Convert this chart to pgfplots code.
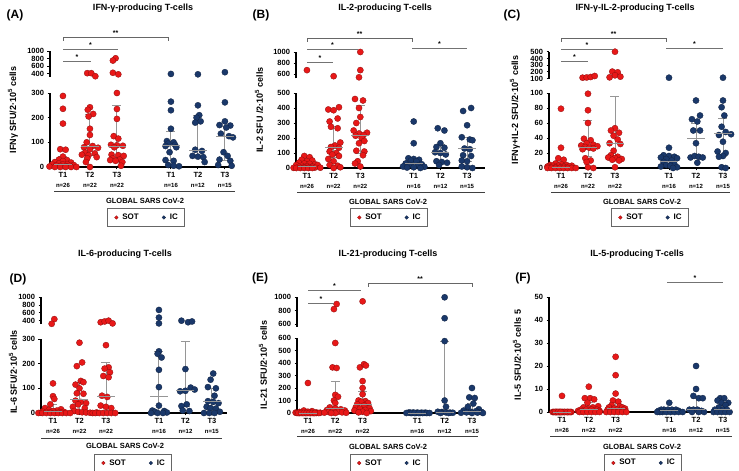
\documentclass[border=0pt]{standalone}
\usepackage{pgfplots}
\pgfplotsset{compat=1.18}
\usepackage{fontspec}
\setmainfont{Liberation Sans}
\definecolor{sotred}{RGB}{232,24,24}
\definecolor{icblue}{RGB}{26,56,106}
\definecolor{medgray}{RGB}{150,150,150}
\newcommand{\bfs}[1]{\fontsize{#1}{#1}\selectfont\bfseries}
\newcommand{\brk}[4]{\draw[black!60,line width=0.7pt] (#1,#3+4) -- (#1,#3) -- (#2,#3) -- (#2,#3+4);
  \node[font=\bfs{7},inner sep=0pt,anchor=south] at ({(#1+#2)/2},#3-1) {#4};}
\newcommand{\lin}[4]{\draw[black!55,line width=0.7pt] (#1,#3) -- (#2,#3);
  \node[font=\bfs{7},inner sep=0pt,anchor=south] at ({(#1+#2)/2},#3-1) {#4};}

\pgfplotsset{
  every axis/.append style={scale only axis, clip=false, anchor=south west,
    tick align=outside, major tick length=2.5pt,
    axis line style={line width=1.1pt}, every tick/.style={black, line width=0.9pt},
    yticklabel style={font=\bfs{7.5}},
    /pgf/number format/assume math mode=true, /pgf/number format/1000 sep={},
    scaled y ticks=false},
  low/.style={axis x line*=bottom, axis y line*=left, ymin=0,
    xtick={1,2,3,5,6,7},
    xticklabels={{T1\\[2.5pt]\bfs{6}n=26},{T2\\[2.5pt]\bfs{6}n=22},{T3\\[2.5pt]\bfs{6}n=22},
                 {T1\\[2.5pt]\bfs{6}n=16},{T2\\[2.5pt]\bfs{6}n=12},{T3\\[2.5pt]\bfs{6}n=15}},
    xticklabel style={align=center, font=\bfs{7.5}, yshift=0.5pt},
    legend style={draw=black!60, line width=0.6pt, font=\bfs{8}, legend columns=2,
      anchor=center, inner xsep=5pt, inner ysep=3.5pt,
      /tikz/every even column/.append style={column sep=19pt}}},
  up/.style={axis x line=none, axis y line*=left, xtick=\empty},
  sot/.style={only marks, mark=*, mark size=3.1pt,
    mark options={fill=sotred, draw=sotred!60!black, line width=0.3pt},
    legend image code/.code={\path[draw=none, fill=none] (-4pt,-1pt) rectangle (4pt,1pt);
      \path[fill=sotred, draw=sotred!60!black, line width=0.3pt] (0pt,0pt) circle (1.8pt);}},
  ic/.style={only marks, mark=*, mark size=3.1pt,
    mark options={fill=icblue, draw=icblue!60!black, line width=0.3pt},
    legend image code/.code={\path[draw=none, fill=none] (-4pt,-1pt) rectangle (4pt,1pt);
      \path[fill=icblue, draw=icblue!60!black, line width=0.3pt] (0pt,0pt) circle (1.8pt);}},
  med/.style={forget plot, only marks, mark=-, mark size=9pt,
    mark options={medgray, line width=0.9pt},
    error bars/.cd, y dir=both, y explicit,
    error bar style={medgray, line width=0.9pt},
    error mark options={medgray, mark size=4.5pt, line width=0.9pt, rotate=90}},
}

\begin{document}
\begin{tikzpicture}
\path[use as bounding box] (0,0) rectangle (739pt,471pt);

% ---------------- (A) IFN-gamma ----------------
\begin{axis}[low, at={(50pt,304pt)}, width=183pt, height=74pt,
  xmin=0.52, xmax=7.3, ymax=300, ytick={0,100,200,300},
  legend style={at={(0.525,-0.682)}}]
\addplot[sot] coordinates {
 (1,288)(1,236)(1,176)(0.9,72)(1.1,70)(1,42)(0.85,30)(1.15,28)(1,24)(0.7,20)(1.3,18)
 (0.85,14)(1.15,12)(1,10)(0.6,10)(1.4,8)(0.75,6)(1.25,5)(0.9,4)(1.1,3)(0.5,2)
 (0.7,0)(0.9,0)(1.1,0)(1.3,0)(1.5,0)
 (2,242)(1.92,232)(2.12,215)(1.95,205)(2,155)(2,130)(1.88,100)(2.1,85)(1.78,80)(2.3,78)
 (2,72)(1.82,58)(2.18,55)(1.7,50)(1.95,48)(2.25,40)(1.9,35)(1.85,20)(2,0)
 (3,300)(3,235)(3,195)(2.88,125)(3.05,115)(2.78,90)(3,88)(3.22,86)(2.9,80)(2.8,50)
 (3.05,48)(3.25,45)(2.85,35)(3.1,30)(2.75,28)(2.95,25)(3.2,20)(3.15,5)};
\addplot[ic] coordinates {
 (5,265)(5,230)(5,155)(4.85,105)(5.1,100)(4.9,95)(5.15,90)(4.8,85)(5.2,80)(4.95,60)
 (4.8,28)(5.1,25)(4.9,8)(5.1,5)(5.3,3)
 (6,250)(6.05,210)(5.95,200)(6.1,185)(5.9,180)(5.9,70)(6.15,65)(5.8,45)(6,42)(6.2,40)(6.25,20)
 (7,262)(7,185)(6.8,170)(7.2,168)(7.05,160)(6.85,135)(7.15,125)(7.3,120)(6.95,60)(7.1,45)
 (6.8,30)(7.2,25)(6.75,8)(7.25,5)};
\addplot[med] coordinates {(1,10) += (0,33) -= (0,10) (2,82) += (0,133) -= (0,37)
 (3,85) += (0,165) -= (0,55) (5,88) += (0,55) -= (0,63) (6,67) += (0,140) -= (0,25)
 (7,122) += (0,43) -= (0,94)};
\legend{SOT,IC}
\end{axis}
\begin{axis}[up, at={(50pt,394pt)}, width=183pt, height=26pt,
  xmin=0.52, xmax=7.3, ymin=320, ymax=1000, ytick={400,600,800,1000}]
\addplot[sot] coordinates {(1.9,420)(2.05,420)(2.2,340)(2.95,810)(2.85,750)(2.85,430)(3.05,390)};
\addplot[ic] coordinates {(5,400)(6,390)(7,445)};
\end{axis}

% ---------------- (B) IL-2 ----------------
\begin{axis}[low, at={(296pt,303pt)}, width=189pt, height=75pt,
  xmin=0.59, xmax=7.67, ymax=500, ytick={0,100,...,500},
  legend style={at={(0.492,-0.66)}}]
\addplot[sot] coordinates {
 (0.9,80)(1.1,72)(0.8,55)(1.2,50)(1,45)(0.7,35)(0.9,30)(1.1,28)(1.3,25)(0.6,20)(1.4,20)
 (0.8,15)(1,12)(1.2,10)(0.7,8)(0.9,5)(1.1,5)(1.3,3)(1.5,2)(0.5,1)
 (0.6,0)(0.75,0)(0.9,0)(1.05,0)(1.2,0)
 (1.8,390)(2,385)(2.2,405)(2.15,330)(1.85,310)(1.9,275)(2.15,265)(2.25,170)(2.05,150)
 (1.9,140)(2.2,135)(1.85,110)(2.1,100)(1.95,90)(2.2,80)(1.8,60)(2,45)(1.85,20)(2.15,15)(2.25,5)(2,0)
 (2.8,460)(3.1,450)(2.95,400)(3,340)(2.85,300)(2.75,250)(3.25,235)(2.95,230)(3.12,220)
 (2.82,215)(3.05,200)(3.15,180)(2.95,165)(2.85,115)(3.15,110)(3.1,85)(2.9,45)(2.8,30)(3,10)};
\addplot[ic] coordinates {
 (5,310)(5,165)(4.8,65)(5,60)(5.2,55)(4.9,50)(5.1,45)(4.7,30)(5.3,25)(4.85,20)(5.15,15)
 (4.6,10)(5.4,8)(5,5)(4.75,3)(5.25,0)
 (5.9,265)(6.15,250)(6,165)(5.85,140)(6.15,135)(5.8,105)(6,100)(6.2,90)(5.85,45)(6.05,40)(6.25,35)(5.95,20)
 (6.85,380)(7.15,400)(7,285)(6.8,205)(7.1,190)(7.2,185)(6.9,130)(7.1,125)(6.85,85)(7.15,80)
 (6.8,50)(7,45)(6.8,10)(7,5)(7.2,0)};
\addplot[med] coordinates {(1,10) += (0,20) -= (0,10) (2,140) += (0,140) -= (0,70)
 (3,220) += (0,200) -= (0,120) (5,30) += (0,8) -= (0,22) (6,105) += (0,50) -= (0,60)
 (7,130) += (0,75) -= (0,85)};
\legend{SOT,IC}
\end{axis}
\begin{axis}[up, at={(296pt,392.6pt)}, width=189pt, height=26.4pt,
  xmin=0.59, xmax=7.67, ymin=520, ymax=1000, ytick={600,800,1000}]
\addplot[sot] coordinates {(1,670)(2,560)(3,1000)(3,670)(2.95,540)};
\end{axis}

% ---------------- (C) IFN-gamma + IL-2 ----------------
\begin{axis}[low, at={(549pt,303pt)}, width=181pt, height=75pt,
  xmin=0.556, xmax=7.26, ymax=100, ytick={0,20,...,100},
  legend style={at={(0.558,-0.66)}}]
\addplot[sot] coordinates {
 (1,79)(1,27)(0.9,13)(1.1,11)(0.8,6)(1,5)(1.2,4)(0.6,4)(1.4,3)(0.7,3)(0.9,3)(1.1,2)(1.3,2)
 (0.5,2)(0.6,1)(0.8,1)(1,1)(1.2,1)(0.5,0)(0.65,0)(0.8,0)(0.95,0)(1.1,0)(1.25,0)(1.4,0)(1.55,0)
 (2,99)(2,77)(2,60)(1.85,39)(2.1,37)(1.95,33)(2.2,31)(1.75,30)(2.35,29)(1.9,28)(2.05,27)
 (2.2,26)(1.8,25)(1.9,13)(2.1,10)(1.95,8)(2,1)(2.2,0)
 (3,53)(2.85,50)(3.15,47)(2.95,43)(3.1,38)(2.8,33)(3.2,32)(2.95,23)(2.85,17)(3.1,15)
 (2.75,14)(3,13)(3.25,12)(2.9,11)(3.15,10)(3,1)};
\addplot[ic] coordinates {
 (5,27)(4.8,17)(5,16)(5.2,15)(4.7,14)(5.3,13)(4.9,12)(5.1,10)(4.8,8)(5.2,5)(4.9,4)(5.05,3)
 (4.7,2)(5.3,1)(5.15,0)
 (6,90)(6.15,70)(5.85,65)(6.05,62)(5.9,50)(6.15,50)(6,33)(5.8,14)(5.95,16)(6.1,15)(6.25,14)(6.05,7)
 (7,90)(6.95,81)(7.05,70)(6.95,55)(7.1,48)(7.3,45)(6.85,44)(7,35)(6.8,22)(7.1,20)(7,16)
 (6.85,15)(6.95,1)(7.1,0)};
\addplot[med] coordinates {(1,1) += (0,3) -= (0,1) (2,28) += (0,36) -= (0,12)
 (3,33) += (0,63) -= (0,21) (5,9) += (0,6) -= (0,7) (6,40) += (0,20) -= (0,24)
 (7,46) += (0,20) -= (0,30)};
\legend{SOT,IC}
\end{axis}
\begin{axis}[up, at={(549pt,392.3pt)}, width=181pt, height=27pt,
  xmin=0.556, xmax=7.26, ymin=100, ymax=500, ytick={100,200,...,500}]
\addplot[sot] coordinates {(1.8,115)(1.95,118)(2.1,125)(2.25,140)(3,500)(2.9,205)(3.1,195)
 (3,150)(2.8,120)(3.2,130)};
\addplot[ic] coordinates {(5,115)(7,115)};
\end{axis}

% ---------------- (D) IL-6 ----------------
\begin{axis}[low, at={(41pt,58pt)}, width=186pt, height=74pt,
  xmin=0.547, xmax=7.57, ymax=300, ytick={0,100,200,300},
  legend style={at={(0.495,-0.676)}}]
\addplot[sot] coordinates {
 (1,120)(1,68)(1.05,57)(0.9,35)(0.7,20)(1.3,15)(0.85,12)(1.15,10)(1,8)(0.6,6)(1.4,5)(0.75,4)
 (1.25,3)(0.9,2)(1.1,1)(0.55,1)(0.45,0)(0.6,0)(0.75,0)(0.9,0)(1.05,0)(1.2,0)(1.35,0)(1.5,0)
 (2,285)(2.1,205)(1.9,190)(2.05,130)(2.15,125)(1.85,115)(2,100)(1.9,80)(2.15,78)(1.85,50)
 (2.05,45)(2.25,40)(1.95,35)(1.75,25)(2.2,20)(1.8,8)(1.95,5)(2.1,3)(2.25,2)(2.4,1)(1.65,0)(2.5,0)
 (3,275)(3.1,185)(2.95,180)(3.15,165)(2.9,150)(3.1,145)(2.85,70)(3.05,65)(2.8,30)(3,25)
 (3.2,20)(2.65,2)(2.6,0)(2.75,0)(2.9,0)(3.05,0)(3.2,0)(3.35,0)};
\addplot[ic] coordinates {
 (5,250)(4.95,240)(5.1,225)(5,175)(5,105)(5,30)(4.75,10)(5.2,8)(4.85,5)(5.3,2)(4.7,0)(4.95,0)(5.15,0)
 (6,178)(6.2,103)(6.35,95)(5.8,88)(6,90)(6.05,35)(5.85,28)(5.9,10)(6.15,8)
 (7.05,160)(6.95,135)(6.85,105)(7.15,100)(7.1,70)(6.85,48)(7.05,45)(7.25,40)(6.8,25)
 (6.95,20)(7.15,18)(7.3,5)(6.7,0)(6.9,0)(7.1,0)};
\addplot[med] coordinates {(1,5) += (0,30) -= (0,5) (2,55) += (0,70) -= (0,47)
 (3,68) += (0,137) -= (0,68) (5,68) += (0,182) -= (0,68) (6,90) += (0,200) -= (0,65)
 (7,45) += (0,55) -= (0,30)};
\legend{SOT,IC}
\end{axis}
\begin{axis}[up, at={(41pt,146.8pt)}, width=186pt, height=26.9pt,
  xmin=0.547, xmax=7.57, ymin=310, ymax=1000, ytick={400,600,800,1000}]
\addplot[sot] coordinates {(1.05,440)(0.95,320)(2.8,360)(2.95,380)(3.1,400)(3.25,330)};
\addplot[ic] coordinates {(5,675)(5,480)(5,330)(5.85,400)(6.1,360)(6.25,380)};
\end{axis}

% ---------------- (E) IL-21 ----------------
\begin{axis}[low, at={(297pt,58pt)}, width=181pt, height=75pt,
  xmin=0.6, xmax=7.22, ymax=600, ytick={0,100,...,600},
  legend style={at={(0.508,-0.667)}}]
\addplot[sot] coordinates {
 (1,240)(0.85,20)(1.15,15)(1,10)(0.7,8)(1.3,5)(0.55,3)(1.45,2)(0.9,1)(1.1,1)
 (0.6,0)(0.7,0)(0.8,0)(0.9,0)(1,0)(1.1,0)(1.2,0)(1.3,0)(1.4,0)(0.65,0)(0.75,0)(0.85,0)
 (0.95,0)(1.05,0)(1.15,0)(1.25,0)
 (2,560)(1.9,365)(2.05,360)(2,145)(2.1,130)(1.95,100)(2,80)(1.8,45)(2,35)(2.2,30)(1.7,25)
 (2.35,20)(1.9,15)(2.1,10)(1.75,8)(2.25,5)(1.6,3)(2.4,2)(2,0)(1.85,0)
 (2.9,365)(3.05,390)(3.12,380)(3,255)(3,200)(3,150)(2.85,100)(3.1,95)(2.95,90)(3.2,80)
 (2.8,70)(3.05,60)(2.75,45)(3.25,40)(2.9,35)(3.1,25)(2.7,20)(3.3,15)(3,10)(2.85,5)(3.15,0)};
\addplot[ic] coordinates {
 (4.7,5)(4.85,4)(5,3)(5.15,2)(5.3,2)(4.75,1)(5.25,1)(4.6,0)(4.8,0)(4.95,0)(5.1,0)(5.2,0)
 (5.35,0)(5.45,0)(4.9,0)(5.05,0)
 (6,575)(6,100)(6.05,50)(5.75,10)(5.9,8)(6.05,5)(6.2,3)(6.3,2)(5.85,0)(6.15,0)
 (7,200)(6.9,125)(7.1,120)(7.05,75)(6.85,50)(7.25,30)(6.7,20)(7.15,15)(6.95,10)(7.35,8)
 (6.8,5)(7.2,3)(6.6,2)(7,0)(7.4,0)};
\addplot[med] coordinates {(1,0) += (0,5) -= (0,0) (2,40) += (0,215) -= (0,30)
 (3,70) += (0,105) -= (0,50) (5,0) += (0,2) -= (0,0) (6,5) += (0,570) -= (0,5)
 (7,10) += (0,70) -= (0,10)};
\legend{SOT,IC}
\end{axis}
\begin{axis}[up, at={(297pt,144pt)}, width=181pt, height=29.7pt,
  xmin=0.6, xmax=7.22, ymin=560, ymax=1000, ytick={600,800,1000}]
\addplot[sot] coordinates {(2.05,900)(1.95,825)(3,940)};
\addplot[ic] coordinates {(6,1000)(6,690)};
\end{axis}

% ---------------- (F) IL-5 ----------------
\begin{axis}[low, at={(549pt,59pt)}, width=183pt, height=115pt,
  xmin=0.515, xmax=7.34, ymax=50, ytick={0,10,...,50},
  legend style={at={(0.514,-0.443)}}]
\addplot[sot] coordinates {
 (1,7)(0.65,0)(0.7,0)(0.75,0)(0.8,0)(0.85,0)(0.9,0)(0.95,0)(1,0)(1.05,0)(1.1,0)(1.15,0)
 (1.2,0)(1.25,0)(1.3,0)(1.35,0)(0.7,0)(0.8,0)(0.9,0)(1,0)(1.1,0)(1.2,0)(1.3,0)(0.75,0)(0.85,0)(0.95,0)
 (2,11)(1.85,6)(2.05,6)(2.2,5.5)(1.95,4)(1.8,2)(2.15,2)(2.35,2.5)(2,1.5)(1.7,1)(1.9,1)(2.1,1)
 (2.3,1)(2.4,0.5)(1.6,0.5)(1.75,0.3)(1.65,0)(1.8,0)(1.95,0)(2.1,0)(2.25,0)(2.4,0)
 (3,24)(3,16)(3,8)(2.9,5)(3.1,4.5)(2.85,3)(3.15,2.5)(2.75,2)(3.25,2)(2.95,1.5)(3.35,1.5)
 (3.05,1)(2.7,1)(3.3,1)(2.85,0.5)(3.15,0.5)(2.65,0)(2.8,0)(2.95,0)(3.1,0)(3.25,0)(3.4,0)};
\addplot[ic] coordinates {
 (5,4)(4.8,1)(4.95,1)(5.1,1)(5.25,1)(4.7,1)(5.35,0.5)(4.6,0.5)(4.75,0)(4.9,0)(5.05,0)
 (5.2,0)(5.35,0)(4.65,0)(5.5,0)(4.55,0)
 (6,20)(6,10)(5.9,7)(6.1,6)(6.25,6)(5.75,1)(5.9,1)(6.05,1)(6.2,0.5)(5.85,0)(6.1,0)(6.3,0)
 (6.9,6)(7.05,6)(6.8,5)(7.2,4)(6.95,4)(7.1,3)(6.85,2)(7,1)(7.15,1)(6.7,1)(6.65,0)(6.8,0)
 (6.95,0)(7.1,0)(7.25,0)};
\addplot[med] coordinates {(1,0) += (0,0.5) -= (0,0) (2,1) += (0,3) -= (0,1)
 (3,1.5) += (0,2.5) -= (0,1.5) (5,0.5) += (0,0.5) -= (0,0.5) (6,1) += (0,5) -= (0,1)
 (7,1) += (0,3) -= (0,1)};
\legend{SOT,IC}
\end{axis}

% ---------------- annotations (pixel grid, y downwards) ----------------
\begin{scope}[x=1pt, y=-1pt, shift={(0pt,471pt)}]
\node[font=\bfs{9}] at (143,8) {IFN-γ-producing T-cells};
\node[font=\bfs{9}] at (385,8) {IL-2-producing T-cells};
\node[font=\bfs{9}] at (635,8) {IFN-γ-IL-2-producing T-cells};
\node[font=\bfs{9}] at (125,254) {IL-6-producing T-cells};
\node[font=\bfs{9}] at (388,254) {IL-21-producing T-cells};
\node[font=\bfs{9}] at (637,254) {IL-5-producing T-cells};
\node[font=\bfs{12}] at (15,15) {(A)};
\node[font=\bfs{12}] at (261,15) {(B)};
\node[font=\bfs{12}] at (512,15) {(C)};
\node[font=\bfs{12}] at (18,279) {(D)};
\node[font=\bfs{12}] at (260,278) {(E)};
\node[font=\bfs{12}] at (523,278) {(F)};
\node[rotate=90, font=\bfs{9}] at (13,110) {IFNγ SFU/2·10\textsuperscript{5} cells};
\node[rotate=90, font=\bfs{9}] at (259,110) {IL-2 SFU /2·10\textsuperscript{5} cells};
\node[rotate=90, font=\bfs{9}] at (515,110) {IFNγ+IL-2 SFU/2·10\textsuperscript{5} cells};
\node[rotate=90, font=\bfs{9}] at (13,372) {IL-6 SFU/2·10\textsuperscript{5} cells};
\node[rotate=90, font=\bfs{9}] at (263,365) {IL-21 SFU/2·10\textsuperscript{5} cells};
\node[rotate=90, font=\bfs{9}] at (517,355) {IL-5 SFU/2·10\textsuperscript{5} cells 5};
\draw[black!75, line width=0.8pt] (54,191) -- (235,191);
\draw[black!75, line width=0.8pt] (297,192) -- (485,192);
\draw[black!75, line width=0.8pt] (551,192) -- (730,192);
\draw[black!75, line width=0.8pt] (41,438) -- (222,438);
\draw[black!75, line width=0.8pt] (297,436) -- (478,436);
\draw[black!75, line width=0.8pt] (550,436) -- (732,436);
\node[font=\bfs{7.5}] at (145,201) {GLOBAL SARS CoV-2};
\node[font=\bfs{7.5}] at (388,202) {GLOBAL SARS CoV-2};
\node[font=\bfs{7.5}] at (642,202) {GLOBAL SARS CoV-2};
\node[font=\bfs{7.5}] at (125,446) {GLOBAL SARS CoV-2};
\node[font=\bfs{7.5}] at (388,447) {GLOBAL SARS CoV-2};
\node[font=\bfs{7.5}] at (642,447) {GLOBAL SARS CoV-2};
\brk{63}{168}{37}{**} \lin{63}{118}{49}{*} \lin{63}{91}{61}{*}
\brk{307}{412}{38}{**} \lin{307}{358}{49}{*} \lin{307}{333}{62}{*} \lin{412}{467}{48}{*}
\brk{561}{666}{38}{**} \lin{561}{613}{49}{*} \lin{561}{588}{61}{*} \lin{666}{723}{48}{*}
\brk{368}{472}{283}{**} \lin{308}{361}{290}{*} \lin{308}{334}{303}{*}
\lin{667}{723}{282}{*}
\end{scope}
\end{tikzpicture}
\end{document}
